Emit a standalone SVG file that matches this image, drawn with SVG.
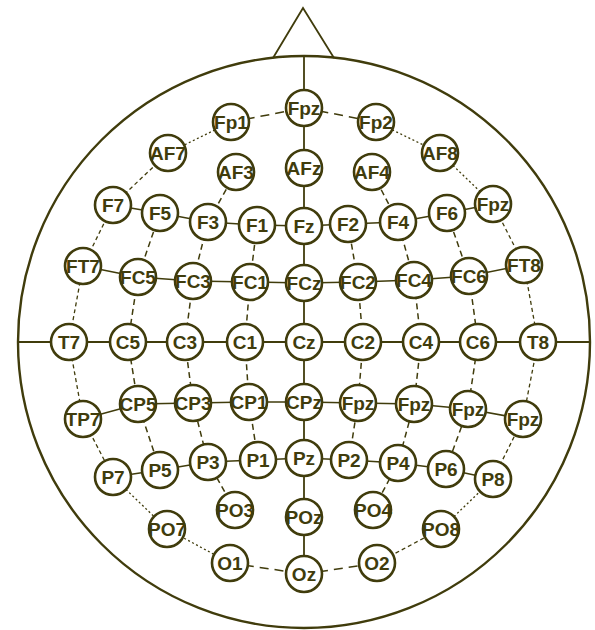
<svg xmlns="http://www.w3.org/2000/svg" width="595" height="630" viewBox="0 0 595 630">
<style>
.ln{stroke:#403c0c;fill:none}
.solid{stroke-width:1.8}
.row{stroke-width:1.5}
.col{stroke-width:1.5;stroke-dasharray:6 4}
.ring{stroke-width:1.3;stroke-dasharray:4 3}
.dot{stroke-width:1.3;stroke-dasharray:2 2.5}
.long{stroke-width:1.5;stroke-dasharray:9 6}
.node circle{fill:#fff;stroke:#403c0c;stroke-width:2.6}
.node text{fill:#403c0c;font-family:"Liberation Sans",Arial,sans-serif;font-size:19px;font-weight:bold;text-anchor:middle}
</style>
<rect width="595" height="630" fill="#fff"/>
<g id="head">
<circle class="ln" cx="304" cy="342" r="286" stroke-width="2.4"/>
<polyline class="ln" points="273,58 303,8 334,58" stroke-width="1.8"/>
</g>
<g id="connectors">
<line class="ln solid" x1="304" y1="56" x2="304" y2="574"/>
<line class="ln solid" x1="17" y1="342" x2="591" y2="342"/>
<polyline class="ln row" points="113,205 160,213 208,222 257,225 304,226 348,224 398,222 447,213 493,204"/>
<polyline class="ln row" points="83,266 138,277 193,281 250,282 304,283 358,282 414,280 469,276 524,265"/>
<polyline class="ln row" points="83,419 138,404 193,403 249,402 304,402 358,403 414,404 468,409 523,419"/>
<polyline class="ln row" points="113,477 160,470 208,462 258,460 304,458 349,460 398,463 446,469 493,479"/>
<polyline class="ln long" points="231,122 304,108 376,122"/>
<line class="ln dot" x1="231" y1="122" x2="168" y2="153"/>
<line class="ln dot" x1="376" y1="122" x2="440" y2="153"/>
<line class="ln ring" x1="168" y1="153" x2="113" y2="205"/>
<line class="ln dot" x1="440" y1="153" x2="493" y2="204"/>
<polyline class="ln ring" points="113,205 83,266 69,342 83,419 113,477"/>
<polyline class="ln ring" points="493,204 524,265 538,342 523,419 493,479"/>
<polyline class="ln dot" points="113,477 167,529 230,563"/>
<polyline class="ln long" points="230,563 304,574 377,563"/>
<polyline class="ln ring" points="377,563 441,529"/>
<polyline class="ln dot" points="441,529 493,479"/>
<polyline class="ln col" points="160,213 138,277 128,342 138,404 160,470"/>
<polyline class="ln col" points="236,172 208,222 193,281 185,342 193,403 208,462 235,510"/>
<polyline class="ln col" points="257,225 250,282 245,342 249,402 258,460"/>
<polyline class="ln col" points="348,224 358,282 363,342 358,403 349,460"/>
<polyline class="ln col" points="372,172 398,222 414,280 421,342 414,404 398,463 373,510"/>
<polyline class="ln col" points="447,213 469,276 478,342 468,409 446,469"/>
</g>
<g id="Fpz" class="node"><circle cx="304" cy="108" r="18"/><text x="304" y="115">Fpz</text></g>
<g id="Fp1" class="node"><circle cx="231" cy="122" r="18"/><text x="231" y="129">Fp1</text></g>
<g id="Fp2" class="node"><circle cx="376" cy="122" r="18"/><text x="376" y="129">Fp2</text></g>
<g id="AF7" class="node"><circle cx="168" cy="153" r="18"/><text x="168" y="160">AF7</text></g>
<g id="AF3" class="node"><circle cx="236" cy="172" r="18"/><text x="236" y="179">AF3</text></g>
<g id="AFz" class="node"><circle cx="304" cy="168" r="18"/><text x="304" y="175">AFz</text></g>
<g id="AF4" class="node"><circle cx="372" cy="172" r="18"/><text x="372" y="179">AF4</text></g>
<g id="AF8" class="node"><circle cx="440" cy="153" r="18"/><text x="440" y="160">AF8</text></g>
<g id="F7" class="node"><circle cx="113" cy="205" r="18"/><text x="113" y="212">F7</text></g>
<g id="F5" class="node"><circle cx="160" cy="213" r="18"/><text x="160" y="220">F5</text></g>
<g id="F3" class="node"><circle cx="208" cy="222" r="18"/><text x="208" y="229">F3</text></g>
<g id="F1" class="node"><circle cx="257" cy="225" r="18"/><text x="257" y="232">F1</text></g>
<g id="Fz" class="node"><circle cx="304" cy="226" r="18"/><text x="304" y="233">Fz</text></g>
<g id="F2" class="node"><circle cx="348" cy="224" r="18"/><text x="348" y="231">F2</text></g>
<g id="F4" class="node"><circle cx="398" cy="222" r="18"/><text x="398" y="229">F4</text></g>
<g id="F6" class="node"><circle cx="447" cy="213" r="18"/><text x="447" y="220">F6</text></g>
<g id="F8" class="node"><circle cx="493" cy="204" r="18"/><text x="493" y="211">Fpz</text></g>
<g id="FT7" class="node"><circle cx="83" cy="266" r="18"/><text x="83" y="273">FT7</text></g>
<g id="FC5" class="node"><circle cx="138" cy="277" r="18"/><text x="138" y="284">FC5</text></g>
<g id="FC3" class="node"><circle cx="193" cy="281" r="18"/><text x="193" y="288">FC3</text></g>
<g id="FC1" class="node"><circle cx="250" cy="282" r="18"/><text x="250" y="289">FC1</text></g>
<g id="FCz" class="node"><circle cx="304" cy="283" r="18"/><text x="304" y="290">FCz</text></g>
<g id="FC2" class="node"><circle cx="358" cy="282" r="18"/><text x="358" y="289">FC2</text></g>
<g id="FC4" class="node"><circle cx="414" cy="280" r="18"/><text x="414" y="287">FC4</text></g>
<g id="FC6" class="node"><circle cx="469" cy="276" r="18"/><text x="469" y="283">FC6</text></g>
<g id="FT8" class="node"><circle cx="524" cy="265" r="18"/><text x="524" y="272">FT8</text></g>
<g id="T7" class="node"><circle cx="69" cy="342" r="18"/><text x="69" y="349">T7</text></g>
<g id="C5" class="node"><circle cx="128" cy="342" r="18"/><text x="128" y="349">C5</text></g>
<g id="C3" class="node"><circle cx="185" cy="342" r="18"/><text x="185" y="349">C3</text></g>
<g id="C1" class="node"><circle cx="245" cy="342" r="18"/><text x="245" y="349">C1</text></g>
<g id="Cz" class="node"><circle cx="304" cy="342" r="18"/><text x="304" y="349">Cz</text></g>
<g id="C2" class="node"><circle cx="363" cy="342" r="18"/><text x="363" y="349">C2</text></g>
<g id="C4" class="node"><circle cx="421" cy="342" r="18"/><text x="421" y="349">C4</text></g>
<g id="C6" class="node"><circle cx="478" cy="342" r="18"/><text x="478" y="349">C6</text></g>
<g id="T8" class="node"><circle cx="538" cy="342" r="18"/><text x="538" y="349">T8</text></g>
<g id="TP7" class="node"><circle cx="83" cy="419" r="18"/><text x="83" y="426">TP7</text></g>
<g id="CP5" class="node"><circle cx="138" cy="404" r="18"/><text x="138" y="411">CP5</text></g>
<g id="CP3" class="node"><circle cx="193" cy="403" r="18"/><text x="193" y="410">CP3</text></g>
<g id="CP1" class="node"><circle cx="249" cy="402" r="18"/><text x="249" y="409">CP1</text></g>
<g id="CPz" class="node"><circle cx="304" cy="402" r="18"/><text x="304" y="409">CPz</text></g>
<g id="CP2" class="node"><circle cx="358" cy="403" r="18"/><text x="358" y="410">Fpz</text></g>
<g id="CP4" class="node"><circle cx="414" cy="404" r="18"/><text x="414" y="411">Fpz</text></g>
<g id="CP6" class="node"><circle cx="468" cy="409" r="18"/><text x="468" y="416">Fpz</text></g>
<g id="TP8" class="node"><circle cx="523" cy="419" r="18"/><text x="523" y="426">Fpz</text></g>
<g id="P7" class="node"><circle cx="113" cy="477" r="18"/><text x="113" y="484">P7</text></g>
<g id="P5" class="node"><circle cx="160" cy="470" r="18"/><text x="160" y="477">P5</text></g>
<g id="P3" class="node"><circle cx="208" cy="462" r="18"/><text x="208" y="469">P3</text></g>
<g id="P1" class="node"><circle cx="258" cy="460" r="18"/><text x="258" y="467">P1</text></g>
<g id="Pz" class="node"><circle cx="304" cy="458" r="18"/><text x="304" y="465">Pz</text></g>
<g id="P2" class="node"><circle cx="349" cy="460" r="18"/><text x="349" y="467">P2</text></g>
<g id="P4" class="node"><circle cx="398" cy="463" r="18"/><text x="398" y="470">P4</text></g>
<g id="P6" class="node"><circle cx="446" cy="469" r="18"/><text x="446" y="476">P6</text></g>
<g id="P8" class="node"><circle cx="493" cy="479" r="18"/><text x="493" y="486">P8</text></g>
<g id="PO7" class="node"><circle cx="167" cy="529" r="18"/><text x="167" y="536">PO7</text></g>
<g id="PO3" class="node"><circle cx="235" cy="510" r="18"/><text x="235" y="517">PO3</text></g>
<g id="POz" class="node"><circle cx="304" cy="517" r="18"/><text x="304" y="524">POz</text></g>
<g id="PO4" class="node"><circle cx="373" cy="510" r="18"/><text x="373" y="517">PO4</text></g>
<g id="PO8" class="node"><circle cx="441" cy="529" r="18"/><text x="441" y="536">PO8</text></g>
<g id="O1" class="node"><circle cx="230" cy="563" r="18"/><text x="230" y="570">O1</text></g>
<g id="Oz" class="node"><circle cx="304" cy="574" r="18"/><text x="304" y="581">Oz</text></g>
<g id="O2" class="node"><circle cx="377" cy="563" r="18"/><text x="377" y="570">O2</text></g>
</svg>
